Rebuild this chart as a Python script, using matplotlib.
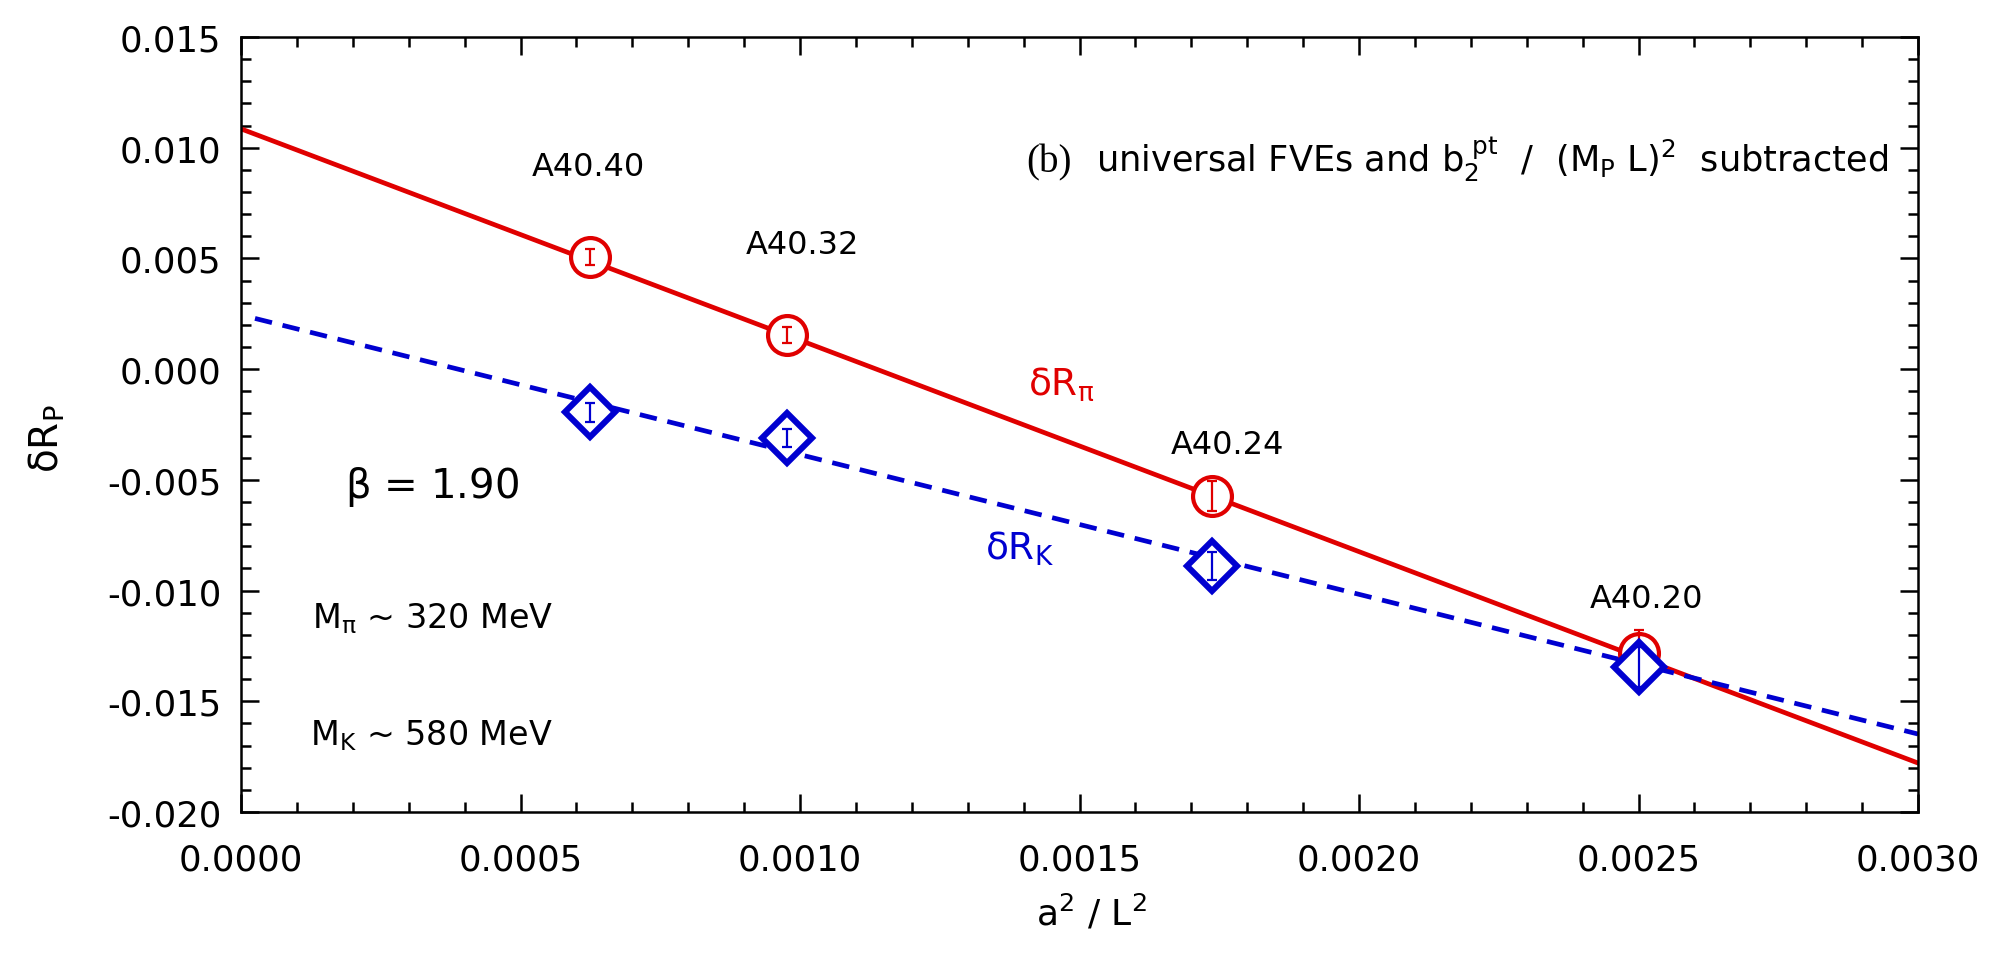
import matplotlib
matplotlib.use("Agg")
import matplotlib.pyplot as plt
import numpy as np
from matplotlib.ticker import MultipleLocator, FormatStrFormatter

plt.rcParams['font.family'] = ['DejaVu Sans']
plt.rcParams['mathtext.fontset'] = 'dejavusans'
plt.rcParams['mathtext.default'] = 'regular'

# ---- data ----
ensembles = ["A40.40", "A40.32", "A40.24", "A40.20"]
a2_over_L2 = [1/1600, 1/1024, 1/576, 1/400]
dR_pi = [0.00506, 0.00154, -0.00573, -0.01282]
dR_pi_err = [0.00036, 0.00036, 0.00068, 0.00106]
dR_K = [-0.00194, -0.00311, -0.00889, -0.01345]
dR_K_err = [0.00043, 0.00040, 0.00065, 0.00090]

fit_pi_x = [0.0, 0.003]
fit_pi_y = [0.01085, -0.01779]
fit_K_x = [0.000025, 0.003]
fit_K_y = [0.00229, -0.01648]

label_x = [0.000621, 0.001005, 0.001765, 0.002515]
label_y = [0.00913, 0.00565, -0.00340, -0.01038]

RED = '#e00000'
BLUE = '#0000d0'

fig = plt.figure(figsize=(19.92, 9.54), dpi=100)
ax = fig.add_axes([0.1210, 0.1478, 0.9629 - 0.1210, 0.9602 - 0.1478])

ax.plot(fit_pi_x, fit_pi_y, color=RED, lw=3.4, zorder=2)
ax.plot(fit_K_x, fit_K_y, color=BLUE, lw=3.4, dashes=(3.7, 2.3), zorder=2)

ax.plot(a2_over_L2, dR_pi, linestyle='none', marker='o', markersize=28,
        markerfacecolor='white', markeredgecolor=RED, markeredgewidth=3.0, zorder=3)
ax.errorbar(a2_over_L2, dR_pi, yerr=dR_pi_err, fmt='none', ecolor=RED,
            elinewidth=1.6, capsize=3.5, capthick=1.6, zorder=4)
ax.plot(a2_over_L2, dR_K, linestyle='none', marker='D', markersize=25,
        markerfacecolor='white', markeredgecolor=BLUE, markeredgewidth=4.4, zorder=5)
ax.errorbar(a2_over_L2, dR_K, yerr=dR_K_err, fmt='none', ecolor=BLUE,
            elinewidth=1.6, capsize=3.5, capthick=1.6, zorder=6)

for name, lx, ly in zip(ensembles, label_x, label_y):
    ax.text(lx, ly, name, fontsize=23, ha='center', va='center', color='black')

ax.text(0.001408, -0.00112, r'$\delta R_{\pi}$', fontsize=27, color=RED,
        ha='left', va='baseline')
ax.text(0.001331, -0.00857, r'$\delta R_{K}$', fontsize=27, color=BLUE,
        ha='left', va='baseline')

ax.text(0.000186, -0.00577, r'$\beta$ = 1.90', fontsize=29, ha='left', va='baseline')
ax.text(0.000127, -0.01165, r'M$_{\pi}$ ~ 320 MeV', fontsize=24, ha='left', va='baseline')
ax.text(0.000123, -0.01693, r'M$_{K}$ ~ 580 MeV', fontsize=24, ha='left', va='baseline')

ax.text(0.001404, 0.00895, '(b)', fontsize=28, family='Liberation Serif',
        ha='left', va='baseline')
ax.text(0.00153, 0.00895,
        r'universal FVEs and b$_{2}^{\ pt}\ \ $/$\ \ $(M$_{P}\ $L)$^{2}\ $ subtracted',
        fontsize=25.3, ha='left', va='baseline')

ax.set_xlim(0.0, 0.003)
ax.set_ylim(-0.020, 0.015)
ax.xaxis.set_major_locator(MultipleLocator(0.0005))
ax.xaxis.set_minor_locator(MultipleLocator(0.0001))
ax.yaxis.set_major_locator(MultipleLocator(0.005))
ax.yaxis.set_minor_locator(MultipleLocator(0.001))
ax.xaxis.set_major_formatter(FormatStrFormatter('%.4f'))
ax.yaxis.set_major_formatter(FormatStrFormatter('%.3f'))

ax.tick_params(which='both', direction='in', top=True, right=True, width=1.8)
ax.tick_params(which='major', length=13, labelsize=25.5)
ax.tick_params(axis='x', which='major', pad=22)
ax.tick_params(axis='y', which='major', pad=14)
ax.tick_params(which='minor', length=7)
for sp in ax.spines.values():
    sp.set_linewidth(1.8)

ax.set_xlabel(r'a$^{2}$ / L$^{2}$', fontsize=26)
ax.xaxis.set_label_coords(0.507, -0.103)
ax.set_ylabel(r'$\delta R_{P}$', fontsize=28)
ax.yaxis.set_label_coords(-0.104, 0.483)

fig.savefig('out.png', dpi=100)
